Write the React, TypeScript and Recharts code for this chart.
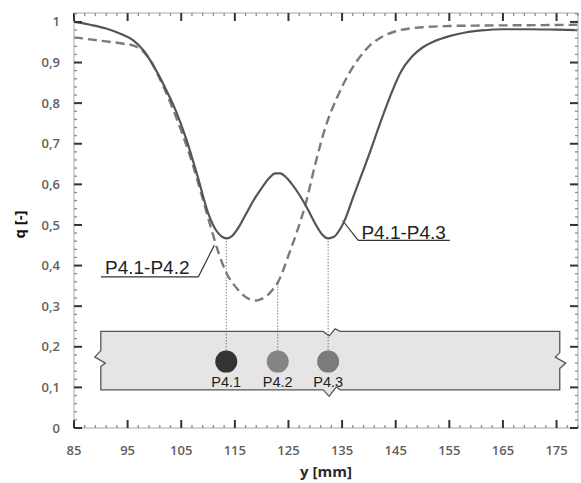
import { LineChart, Line, XAxis, YAxis, ReferenceArea, ReferenceLine, ReferenceDot, Label } from 'recharts';

// measured curves, position y [mm] against q [-]
const solidPos = [85, 88, 91, 94, 96, 98, 100, 102, 104, 106, 108, 110, 111.5, 112.5, 113.5, 114.5, 115.5, 117, 118.5, 120, 121.5, 122.5, 123.5, 124.5, 125.5, 127, 128.5, 130, 131.2, 132.4, 133.5, 134.5, 135.5, 137, 138.5, 140, 142, 144, 146, 148, 150, 152, 155, 158, 161, 165, 170, 175, 179];
const solidQ = [1.0, 0.993, 0.984, 0.969, 0.955, 0.929, 0.888, 0.838, 0.781, 0.709, 0.622, 0.53, 0.487, 0.472, 0.467, 0.473, 0.49, 0.525, 0.561, 0.591, 0.617, 0.627, 0.627, 0.618, 0.603, 0.575, 0.541, 0.503, 0.478, 0.467, 0.471, 0.487, 0.512, 0.566, 0.619, 0.672, 0.747, 0.818, 0.878, 0.914, 0.937, 0.951, 0.965, 0.974, 0.979, 0.982, 0.982, 0.981, 0.98];

const dashedPos = [85, 88, 91, 94, 96, 97.5, 99, 101, 103, 105, 107, 109, 110.5, 112, 113.5, 115, 116.5, 118, 119, 120, 121, 122, 123, 124, 125, 126.5, 128.3, 130, 132, 134, 136, 138, 140, 142, 145, 150, 155, 160, 170, 179];
const dashedQ = [0.962, 0.957, 0.952, 0.947, 0.942, 0.932, 0.91, 0.86, 0.8, 0.732, 0.655, 0.565, 0.495, 0.43, 0.38, 0.35, 0.328, 0.316, 0.314, 0.318, 0.326, 0.34, 0.358, 0.388, 0.425, 0.48, 0.557, 0.65, 0.745, 0.812, 0.866, 0.908, 0.94, 0.96, 0.977, 0.987, 0.99, 0.991, 0.992, 0.993];

// sensor points on the specimen
const pointNames = ['P4.1', 'P4.2', 'P4.3'];
const pointPos = [113.4, 123.0, 132.4];
const pointColors = ['#333333', '#858585', '#7b7b7b'];
const pointRow = 0.1635;
const pointTop = [0.467, 0.356, 0.467];
const pointLineEnd = 0.191;

// specimen band
const bandFrom = 90;
const bandTo = 175.6;
const bandLow = 0.094;
const bandHigh = 0.238;

const xMajor = [85, 95, 105, 115, 125, 135, 145, 155, 165, 175];
const yMajor = [0, 0.1, 0.2, 0.3, 0.4, 0.5, 0.6, 0.7, 0.8, 0.9, 1];
const xDomain = [85, 179];
const yDomain = [0, 1.022];

// minor ticks: every 2 mm and every 0.02
const xMinor: number[] = [];
for (let v = 85; v <= 179; v += 2) xMinor.push(v);
const yMinor: number[] = [];
for (let i = 0; i <= 51; i++) yMinor.push(Number((i * 0.02).toFixed(2)));

const solidData = solidPos.map((p, i) => ({ pos: p, q: solidQ[i] }));
const dashedData = dashedPos.map((p, i) => ({ pos: p, q: dashedQ[i] }));

const tickFont = { fontFamily: '"Open Sans", sans-serif', fontSize: 13, fontWeight: 600, fill: '#5f5f5f' };
const isMajorY = (v: number) => yMajor.some((m) => Math.abs(m - v) < 1e-6);
const isMajorX = (v: number) => xMajor.includes(v);
const fmtQ = (v: number) => String(Math.round(v * 10) / 10).replace('.', ',');

const tickStyle = (major: boolean) => ({
  stroke: major ? '#333333' : '#8c8c8c',
  strokeWidth: major ? 2 : 1.3,
});

const LeftTick = (props: any) => {
  const x = Number(props.x);
  const y = Number(props.y);
  const major = isMajorY(props.payload.value);
  return (
    <g>
      <line x1={x} x2={x + (major ? 8 : 3)} y1={y} y2={y} {...tickStyle(major)} />
      {major && (
        <text x={x - 14} y={y} dy="0.35em" textAnchor="end" {...tickFont}>
          {fmtQ(props.payload.value)}
        </text>
      )}
    </g>
  );
};

const RightTick = (props: any) => {
  const x = Number(props.x);
  const y = Number(props.y);
  const major = isMajorY(props.payload.value);
  return <line x1={x} x2={x - (major ? 8 : 3)} y1={y} y2={y} {...tickStyle(major)} />;
};

const BottomTick = (props: any) => {
  const x = Number(props.x);
  const y = Number(props.y);
  const major = isMajorX(props.payload.value);
  return (
    <g>
      <line x1={x} x2={x} y1={y} y2={y - (major ? 8 : 3)} {...tickStyle(major)} />
      {major && (
        <text x={x} y={y + 22} dy="0.35em" textAnchor="middle" {...tickFont}>
          {props.payload.value}
        </text>
      )}
    </g>
  );
};

const TopTick = (props: any) => {
  const x = Number(props.x);
  const y = Number(props.y);
  const major = isMajorX(props.payload.value);
  return <line x1={x} x2={x} y1={y} y2={y + (major ? 8 : 3)} {...tickStyle(major)} />;
};

// band with break marks on the left / right edges and across at P4.3
const BandShape = ({ x, y, width, height }: any) => {
  const r = x + width;
  const b = y + height;
  const m = y + height / 2;
  const c = x + ((pointPos[2] - bandFrom) / (bandTo - bandFrom)) * width;
  const d = [
    `M${x},${y}`,
    `L${c - 5},${y}`, `L${c + 1},${y + 4.5}`, `L${c + 7},${y - 2.5}`, `L${c + 12},${y}`,
    `L${r},${y}`,
    `L${r},${m - 8}`, `L${r - 4.5},${m - 3.5}`, `L${r + 6},${m + 2.5}`, `L${r},${m + 8}`,
    `L${r},${b}`,
    `L${c + 12},${b}`, `L${c + 8},${b - 2.8}`, `L${c + 1},${b + 6.5}`, `L${c - 5},${b}`,
    `L${x},${b}`,
    `L${x},${m + 6}`, `L${x + 4.5},${m + 2.5}`, `L${x - 6},${m - 3.5}`, `L${x},${m - 10}`,
    'Z',
  ].join(' ');
  return <path d={d} fill="#e5e5e5" stroke="#555" strokeWidth={1.3} strokeLinejoin="miter" />;
};

const calloutFont = { fontFamily: '"Liberation Sans", Arial, sans-serif', fontSize: 19, fill: '#222' };

export default function App() {
  return (
    <div style={{ position: 'absolute', left: 0, top: 0 }}>
      {/* top / right frame axes need a non-zero size or recharts skips drawing them */}
      <LineChart width={581} height={483} margin={{ top: 12, right: 2, bottom: 0, left: 0 }}>
        <XAxis
          dataKey="pos"
          type="number"
          domain={xDomain}
          allowDataOverflow
          ticks={xMinor}
          interval={0}
          tickSize={0}
          tickMargin={0}
          tickLine={false}
          tick={BottomTick}
          height={55}
          stroke="#c4c4c4"
          strokeWidth={1.5}
        >
          <Label
            content={({ viewBox }: any) => (
              <text
                x={viewBox.x + viewBox.width / 2}
                y={viewBox.y + viewBox.height - 6}
                textAnchor="middle"
                fontFamily='"Open Sans", sans-serif'
                fontSize={15}
                fontWeight={700}
                fill="#2a2a2a"
              >
                y [mm]
              </text>
            )}
          />
        </XAxis>
        <XAxis
          xAxisId="top"
          orientation="top"
          dataKey="pos"
          type="number"
          domain={xDomain}
          allowDataOverflow
          ticks={xMinor}
          interval={0}
          tickSize={0}
          tickMargin={0}
          tickLine={false}
          tick={TopTick}
          height={1}
          stroke="#c4c4c4"
          strokeWidth={1.5}
        />
        <YAxis
          type="number"
          domain={yDomain}
          allowDataOverflow
          ticks={yMinor}
          interval={0}
          tickSize={0}
          tickMargin={0}
          tickLine={false}
          tick={LeftTick}
          width={74}
          stroke="#c4c4c4"
          strokeWidth={1.5}
        >
          <Label
            content={({ viewBox }: any) => {
              const cx = viewBox.x + 20;
              const cy = viewBox.y + viewBox.height / 2 + 4;
              return (
                <text
                  x={cx}
                  y={cy}
                  dy="0.35em"
                  transform={`rotate(-90 ${cx} ${cy})`}
                  textAnchor="middle"
                  fontFamily='"Open Sans", sans-serif'
                  fontSize={15}
                  fontWeight={700}
                  fill="#111"
                >
                  q [-]
                </text>
              );
            }}
          />
        </YAxis>
        <YAxis
          yAxisId="right"
          orientation="right"
          type="number"
          domain={yDomain}
          allowDataOverflow
          ticks={yMinor}
          interval={0}
          tickSize={0}
          tickMargin={0}
          tickLine={false}
          tick={RightTick}
          width={1}
          stroke="#c4c4c4"
          strokeWidth={1.5}
        />

        <ReferenceArea x1={bandFrom} x2={bandTo} y1={bandLow} y2={bandHigh} shape={BandShape} ifOverflow="visible" />

        {pointNames.map((name, i) => (
          <ReferenceLine
            key={`drop-${name}`}
            segment={[
              { x: pointPos[i], y: pointTop[i] },
              { x: pointPos[i], y: pointLineEnd },
            ]}
            stroke="#555"
            strokeWidth={1.1}
            strokeDasharray="1 2"
          />
        ))}

        {pointNames.map((name, i) => (
          <ReferenceDot
            key={name}
            x={pointPos[i]}
            y={pointRow}
            r={11}
            fill={pointColors[i]}
            stroke="none"
            label={{
              value: name,
              position: 'bottom',
              offset: 4,
              fill: '#222',
              fontSize: 14.5,
              fontFamily: '"Liberation Sans", Arial, sans-serif',
            }}
          />
        ))}

        {/* callout for the solid curve */}
        <ReferenceLine segment={[{ x: 135.1, y: 0.511 }, { x: 138.0, y: 0.4623 }]} stroke="#333" strokeWidth={1.2} />
        <ReferenceLine segment={[{ x: 138.0, y: 0.4623 }, { x: 155.1, y: 0.4623 }]} stroke="#333" strokeWidth={1.2} />
        <ReferenceDot
          x={138.6}
          y={0.483}
          r={0}
          fill="none"
          stroke="none"
          label={{ value: 'P4.1-P4.3', position: 'right', offset: 0, ...calloutFont }}
        />

        {/* callout for the dashed curve */}
        <ReferenceLine segment={[{ x: 90.03, y: 0.372 }, { x: 108.18, y: 0.372 }]} stroke="#333" strokeWidth={1.2} />
        <ReferenceLine segment={[{ x: 108.18, y: 0.372 }, { x: 111.16, y: 0.45 }]} stroke="#333" strokeWidth={1.2} />
        <ReferenceDot
          x={90.78}
          y={0.397}
          r={0}
          fill="none"
          stroke="none"
          label={{ value: 'P4.1-P4.2', position: 'right', offset: 0, ...calloutFont }}
        />

        {/* dashed curve sits on the top/right frame axes (same domains) */}
        <Line
          data={dashedData}
          dataKey="q"
          xAxisId="top"
          yAxisId="right"
          type="monotone"
          stroke="#7a7a7a"
          strokeWidth={2.4}
          strokeDasharray="9 5"
          dot={false}
          isAnimationActive={false}
        />
        <Line
          data={solidData}
          dataKey="q"
          type="monotone"
          stroke="#555555"
          strokeWidth={2.2}
          dot={false}
          isAnimationActive={false}
        />
      </LineChart>
    </div>
  );
}
